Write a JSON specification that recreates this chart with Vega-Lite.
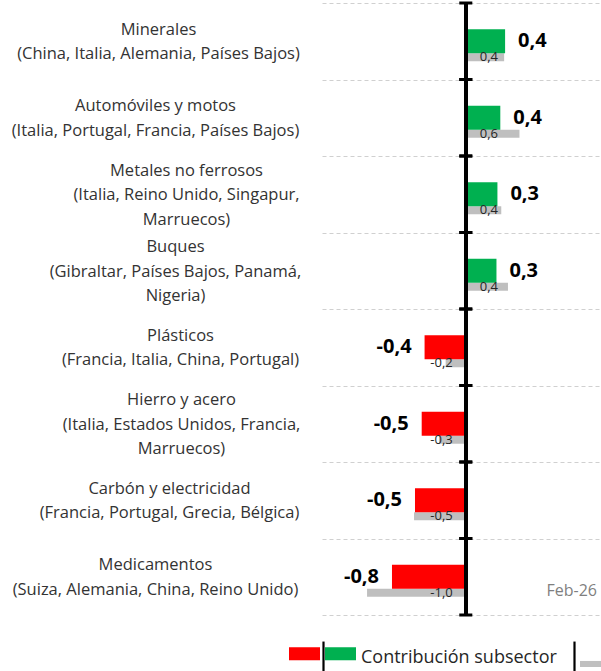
{
  "$schema": "https://vega.github.io/schema/vega-lite/v6.json",
  "width": 278,
  "height": 612,
  "autosize": {"type": "none"},
  "padding": {"left": 322, "top": 3, "right": 1, "bottom": 56},
  "background": "white",
  "config": {
    "view": {"stroke": null},
    "font": "Open Sans",
    "locale": {"number": {"decimal": ",", "thousands": ".", "grouping": [3], "currency": ["", " €"], "minus": "-"}}
  },
  "data": {
    "values": [
      {"categoria": "Minerales|(China, Italia, Alemania, Países Bajos)", "valor": 0.41, "anterior": 0.40, "signo": "pos"},
      {"categoria": "Automóviles y motos|(Italia, Portugal, Francia, Países Bajos)", "valor": 0.36, "anterior": 0.56, "signo": "pos"},
      {"categoria": "Metales no ferrosos|(Italia, Reino Unido, Singapur,|Marruecos)", "valor": 0.33, "anterior": 0.37, "signo": "pos"},
      {"categoria": "Buques|(Gibraltar, Países Bajos, Panamá,|Nigeria)", "valor": 0.32, "anterior": 0.44, "signo": "pos"},
      {"categoria": "Plásticos|(Francia, Italia, China, Portugal)", "valor": -0.43, "anterior": -0.21, "signo": "neg"},
      {"categoria": "Hierro y acero|(Italia, Estados Unidos, Francia,|Marruecos)", "valor": -0.46, "anterior": -0.28, "signo": "neg"},
      {"categoria": "Carbón y electricidad|(Francia, Portugal, Grecia, Bélgica)", "valor": -0.53, "anterior": -0.54, "signo": "neg"},
      {"categoria": "Medicamentos|(Suiza, Alemania, China, Reino Unido)", "valor": -0.77, "anterior": -1.03, "signo": "neg"}
    ]
  },
  "layer": [
    {
      "mark": {"type": "bar", "height": 8, "yOffset": 16},
      "encoding": {
        "y": {
          "field": "categoria", "type": "nominal", "sort": null,
          "scale": {"paddingInner": 0, "paddingOuter": 0},
          "axis": {
            "title": null, "domain": false, "ticks": false, "grid": true, "tickBand": "extent",
            "gridDash": [4, 3], "gridColor": "#d0d0d0", "gridWidth": 1,
            "labelFont": "Open Sans", "labelFontSize": 16.5, "labelColor": "#333333",
            "labelAlign": "center", "labelBaseline": "middle", "labelLineHeight": 24.5,
            "labelLimit": 0, "labelOverlap": false,
            "labelExpr": "isString(datum.value) ? split(datum.value, '|') : ''",
            "labelOffset": {
              "condition": {"test": "isString(datum.value) && length(split(datum.value, '|')) == 3", "value": -24},
              "value": -12
            },
            "labelPadding": {
              "condition": [
                {"test": "isString(datum.value) && indexof(datum.value, 'Minerales') == 0", "value": 164},
                {"test": "isString(datum.value) && indexof(datum.value, 'Automóviles') == 0", "value": 167},
                {"test": "isString(datum.value) && indexof(datum.value, 'Metales') == 0", "value": 136},
                {"test": "isString(datum.value) && indexof(datum.value, 'Buques') == 0", "value": 147},
                {"test": "isString(datum.value) && indexof(datum.value, 'Plásticos') == 0", "value": 142},
                {"test": "isString(datum.value) && indexof(datum.value, 'Hierro') == 0", "value": 141},
                {"test": "isString(datum.value) && indexof(datum.value, 'Carbón') == 0", "value": 153}
              ],
              "value": 167
            }
          }
        },
        "x": {"field": "anterior", "type": "quantitative", "scale": {"domain": [-1.5, 1.4], "nice": false}, "axis": null},
        "fill": {
          "datum": "Feb-26",
          "scale": {"range": ["#bfbfbf"]},
          "legend": {
            "title": null, "orient": "none", "legendX": 258, "legendY": 639.5, "direction": "horizontal",
            "symbolType": "M-1,0.19H1V0.58H-1Z", "symbolSize": 961, "symbolStrokeWidth": 0, "symbolOpacity": 1,
            "labelExpr": "''", "labelOffset": 0, "padding": 0
          }
        }
      }
    },
    {
      "mark": {"type": "bar", "height": 24},
      "encoding": {
        "y": {"field": "categoria", "type": "nominal", "sort": null},
        "x": {"field": "valor", "type": "quantitative"},
        "fill": {
          "field": "signo", "type": "nominal",
          "scale": {"domain": ["neg", "pos"], "range": ["#ff0000", "#00b050"]},
          "legend": {
            "title": null, "orient": "none", "legendX": -33, "legendY": 639.5, "direction": "horizontal",
            "symbolType": "M-1,-0.71H1V0.13H-1Z", "symbolSize": 961, "symbolStrokeWidth": 0, "symbolOpacity": 1,
            "labelExpr": "datum.value == 'pos' ? 'Contribución subsector' : ''",
            "labelFont": "Open Sans", "labelFontSize": 18, "labelColor": "#262626", "labelLimit": 0,
            "labelOffset": 5, "columnPadding": 0, "padding": 0
          }
        }
      }
    },
    {
      "mark": {"type": "rule", "strokeWidth": 3.5},
      "encoding": {
        "x": {"datum": 0},
        "stroke": {
          "datum": "Eje",
          "scale": {"domain": ["Eje", "Marca"], "range": ["#000000", "#000000"]},
          "legend": {
            "title": null, "orient": "none", "legendX": -15.5, "legendY": 637, "direction": "horizontal",
            "symbolType": "M0,-1V1", "symbolSize": 961, "symbolStrokeWidth": 2.2,
            "labelExpr": "''", "labelOffset": 0, "columnPadding": 217, "padding": 0
          }
        }
      }
    },
    {
      "mark": {"type": "rule", "strokeWidth": 3},
      "encoding": {
        "y": {"field": "categoria", "type": "nominal", "sort": null, "bandPosition": 0},
        "x": {"datum": -0.068},
        "x2": {"datum": 0.068},
        "stroke": {"datum": "Marca"}
      }
    },
    {
      "mark": {"type": "rule", "strokeWidth": 3},
      "encoding": {
        "y": {"field": "categoria", "type": "nominal", "sort": null, "bandPosition": 1},
        "x": {"datum": -0.068},
        "x2": {"datum": 0.068},
        "stroke": {"datum": "Marca"}
      }
    },
    {
      "transform": [{"filter": "datum.valor >= 0"}],
      "mark": {"type": "text", "align": "left", "baseline": "middle", "dx": 13, "fontSize": 20, "fontWeight": "bold", "font": "Open Sans", "color": "#000000"},
      "encoding": {
        "y": {"field": "categoria", "type": "nominal", "sort": null},
        "x": {"field": "valor", "type": "quantitative"},
        "text": {"field": "valor", "type": "quantitative", "format": ".1f"}
      }
    },
    {
      "transform": [{"filter": "datum.valor < 0"}],
      "mark": {"type": "text", "align": "right", "baseline": "middle", "dx": -13, "fontSize": 20, "fontWeight": "bold", "font": "Open Sans", "color": "#000000"},
      "encoding": {
        "y": {"field": "categoria", "type": "nominal", "sort": null},
        "x": {"field": "valor", "type": "quantitative"},
        "text": {"field": "valor", "type": "quantitative", "format": ".1f"}
      }
    },
    {
      "transform": [{"filter": "datum.anterior >= 0"}],
      "mark": {"type": "text", "align": "left", "baseline": "middle", "dx": 14, "dy": 16, "fontSize": 13, "font": "Open Sans", "color": "#262626"},
      "encoding": {
        "y": {"field": "categoria", "type": "nominal", "sort": null},
        "x": {"datum": 0},
        "text": {"field": "anterior", "type": "quantitative", "format": ".1f"}
      }
    },
    {
      "transform": [{"filter": "datum.anterior < 0"}],
      "mark": {"type": "text", "align": "right", "baseline": "middle", "dx": -13, "dy": 16, "fontSize": 13, "font": "Open Sans", "color": "#262626"},
      "encoding": {
        "y": {"field": "categoria", "type": "nominal", "sort": null},
        "x": {"datum": 0},
        "text": {"field": "anterior", "type": "quantitative", "format": ".1f"}
      }
    },
    {
      "data": {"values": [{"periodo": "Feb-26", "categoria": "Medicamentos|(Suiza, Alemania, China, Reino Unido)"}]},
      "mark": {"type": "text", "align": "right", "baseline": "middle", "dx": -3, "dy": 14, "fontSize": 16, "font": "Open Sans", "color": "#7f7f7f"},
      "encoding": {
        "y": {"field": "categoria", "type": "nominal", "sort": null},
        "x": {"datum": 1.4},
        "text": {"field": "periodo"}
      }
    }
  ],
  "resolve": {"scale": {"fill": "independent"}}
}
